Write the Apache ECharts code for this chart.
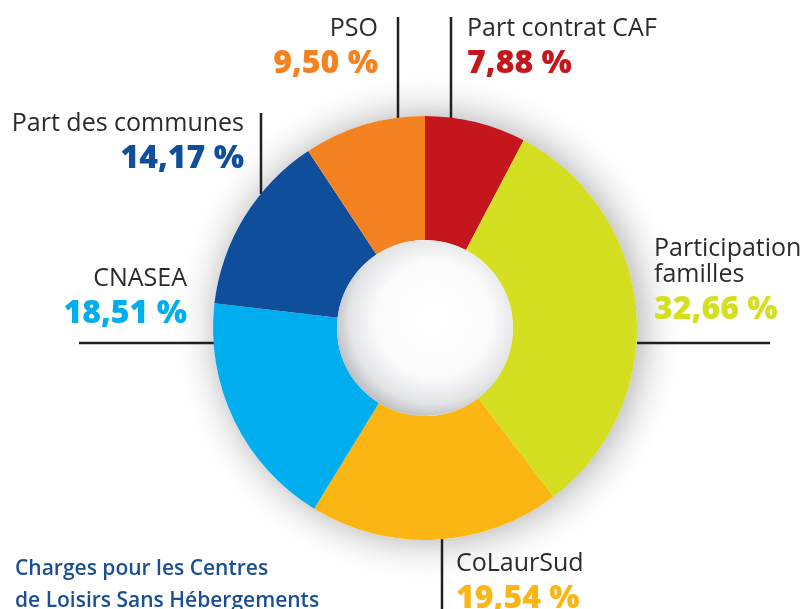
<!DOCTYPE html>
<html>
<head>
<meta charset="utf-8">
<script src="https://cdn.jsdelivr.net/npm/echarts@6/dist/echarts.min.js"></script>
<style>
html,body{margin:0;padding:0;background:#fff;}
#chart{width:806px;height:609px;}
</style>
</head>
<body>
<div id="chart"></div>
<script>
// ---- data ----
var categories = ['Part contrat CAF', 'Participation familles', 'CoLaurSud', 'CNASEA', 'Part des communes', 'PSO'];
var labelNames = ['Part contrat CAF', 'Participation\nfamilles', 'CoLaurSud', 'CNASEA', 'Part des communes', 'PSO'];
var values = [7.88, 32.66, 19.54, 18.51, 14.17, 9.50];
var titleText = 'Charges pour les Centres\nde Loisirs Sans Hébergements';

// ---- styles / layout ----
var colors = ['#c5161d', '#d5df22', '#fcb614', '#00aeef', '#0f4e9a', '#f58220'];
var CENTER = [425, 328];
var R_IN = 88, R_OUT = 212;
var labelPos = [
  {x: 467, y: 16, align: 'left',  line: [[451, 118], [451, 17]]},
  {x: 654, y: 236, align: 'left', line: [[637, 343], [770, 343]]},
  {x: 456, y: 551, align: 'left', line: [[442, 539], [442, 609]]},
  {x: 187, y: 266, align: 'right', line: [[214, 343], [79, 343]]},
  {x: 244, y: 111, align: 'right', line: [[261, 194], [261, 113]]},
  {x: 378, y: 16, align: 'right', line: [[398, 118], [398, 17]]}
];

function fmt(v) { return v.toFixed(2).replace('.', ',') + ' %'; }

var rich = {
  n: {fontFamily: 'Open Sans', fontSize: 25, lineHeight: 26, color: '#2b2b2b'},
};
colors.forEach(function (c, i) {
  rich['v' + i] = {fontFamily: 'Open Sans', fontWeight: 800, fontSize: 32, lineHeight: 44, color: c};
});

var chart = echarts.init(document.getElementById('chart'));
chart.setOption({
  backgroundColor: '#ffffff',
  animation: false,
  title: {
    text: titleText,
    left: 10,
    top: 548,
    textStyle: {fontFamily: 'Open Sans', fontWeight: 600, fontSize: 21, lineHeight: 32, color: '#1b4f92'}
  },
  series: [
    {
      type: 'pie', silent: true, z: 1,
      center: CENTER, radius: [0, R_OUT],
      label: {show: false}, labelLine: {show: false},
      itemStyle: {color: '#ffffff', shadowBlur: 40, shadowColor: 'rgba(0,0,0,0.35)', shadowOffsetX: 4},
      data: [{value: 1, name: 'bg'}]
    },
    {
      type: 'pie', z: 2,
      center: CENTER, radius: [R_IN, R_OUT],
      startAngle: 90, clockwise: true,
      avoidLabelOverlap: false,
      emphasis: {disabled: true},
      label: {
        show: true, position: 'outside',
        formatter: function (p) {
          var i = p.dataIndex;
          var n = labelNames[i].split('\n').map(function (s) { return '{n|' + s + '}'; }).join('\n');
          return n + '\n{v' + i + '|' + fmt(values[i]) + '}';
        },
        rich: rich
      },
      labelLine: {show: true, lineStyle: {color: '#231f20', width: 2.5}},
      labelLayout: function (p) {
        var l = labelPos[p.dataIndex];
        return {x: l.x, y: l.y, align: l.align, verticalAlign: 'top', labelLinePoints: l.line, hideOverlap: false};
      },
      data: categories.map(function (c, i) {
        return {name: c, value: values[i], itemStyle: {color: colors[i]}};
      })
    },
    {
      type: 'pie', silent: true, z: 3,
      center: CENTER, radius: [0, R_IN],
      label: {show: false}, labelLine: {show: false},
      itemStyle: {
        color: {
          type: 'radial', x: 0.55, y: 0.45, r: 0.6,
          colorStops: [
            {offset: 0, color: '#ffffff'},
            {offset: 0.55, color: '#fbfbfc'},
            {offset: 0.8, color: '#e2e3e5'},
            {offset: 1, color: '#aeb1b4'}
          ]
        }
      },
      data: [{value: 1, name: 'hole'}]
    }
  ]
});
</script>
</body>
</html>
